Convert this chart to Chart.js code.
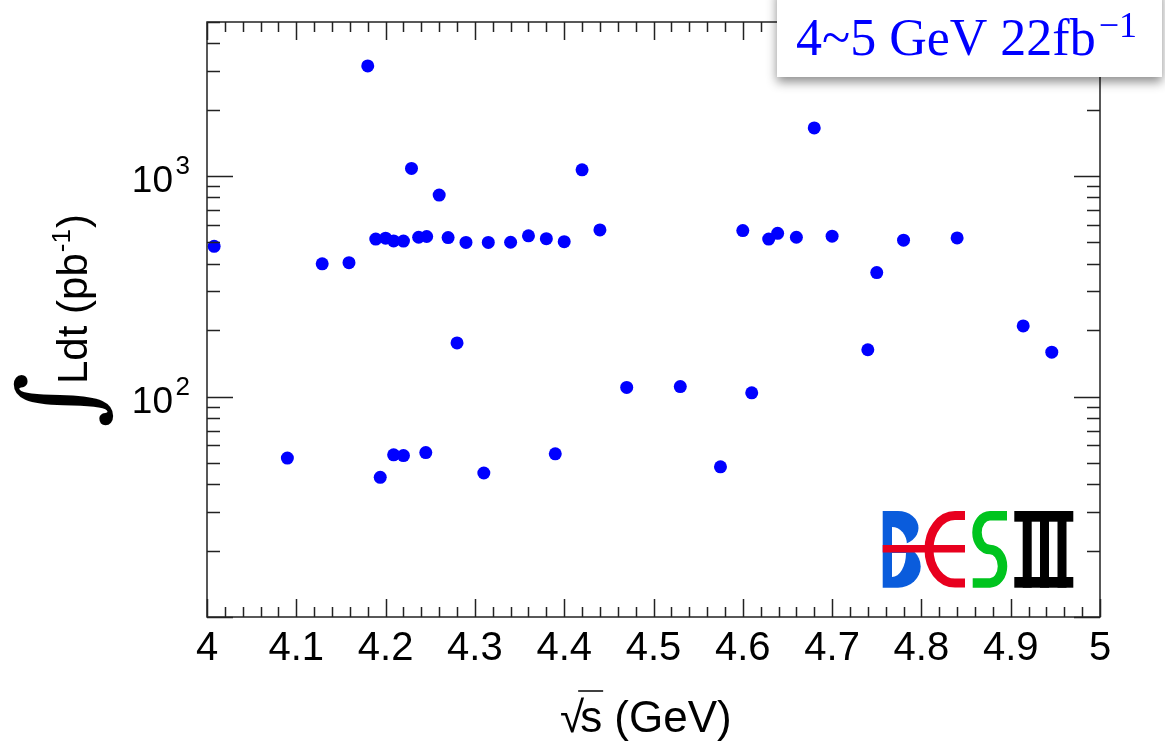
<!DOCTYPE html>
<html>
<head>
<meta charset="utf-8">
<script src="https://cdn.jsdelivr.net/npm/chart.js@4.4.0/dist/chart.umd.min.js"></script>
<style>
html, body { margin: 0; padding: 0; background: #fff; }
#chart { display: block; }
</style>
</head>
<body>
<canvas id="chart" width="1165" height="745"></canvas>
<script>
// data points: sqrt(s) in GeV, integrated luminosity in pb^-1
const energies = [4.008, 4.090, 4.129, 4.159, 4.180, 4.189, 4.194, 4.200, 4.209, 4.209,
    4.220, 4.220, 4.229, 4.237, 4.245, 4.246, 4.260, 4.270, 4.280, 4.290,
    4.310, 4.315, 4.340, 4.360, 4.380, 4.390, 4.400, 4.420, 4.440, 4.470,
    4.530, 4.575, 4.600, 4.610, 4.629, 4.639, 4.660, 4.680, 4.700, 4.740,
    4.750, 4.780, 4.840, 4.914, 4.946];
const lumis = [480, 52.6, 400, 405, 3160, 518, 43, 523, 508, 54.4,
    507, 54, 1083, 528, 55.7, 532, 820, 526, 175, 500,
    45, 500, 501, 536, 520, 55, 504, 1068, 570, 110,
    111, 48, 566, 104, 518, 550, 528, 1654, 534, 163,
    365, 512, 524, 209, 159];

const xTicks = [4, 4.1, 4.2, 4.3, 4.4, 4.5, 4.6, 4.7, 4.8, 4.9, 5];
const yLabelValues = [100, 1000];
const yLabelExps = ['2', '3'];
const boxText = '4~5 GeV 22fb';
const boxSup = '\u22121';

const ink = '#222';

const framePlugin = {
    id: 'frame',
    afterDraw(chart) {
        const ctx = chart.ctx;
        const a = chart.chartArea;
        const xs = chart.scales.x;
        const ys = chart.scales.y;
        ctx.save();

        // frame
        ctx.strokeStyle = ink;
        ctx.lineWidth = 1.5;
        ctx.strokeRect(a.left, a.top, a.right - a.left, a.bottom - a.top);

        // x ticks (top and bottom, pointing in)
        ctx.beginPath();
        for (let i = 0; i <= 50; i++) {
            const v = 4 + i * 0.02;
            const px = Math.round(xs.getPixelForValue(v)) + 0.5;
            const len = (i % 5 === 0) ? 18 : 10;
            ctx.moveTo(px, a.bottom);
            ctx.lineTo(px, a.bottom - len);
            ctx.moveTo(px, a.top);
            ctx.lineTo(px, a.top + len);
        }
        // y ticks (left and right)
        for (let d = 10; d <= 1000; d *= 10) {
            for (let m = 1; m <= 9; m++) {
                const v = d * m;
                if (v > ys.max) continue;
                const py = Math.round(ys.getPixelForValue(v)) + 0.5;
                const len = (m === 1) ? 26 : 13;
                ctx.moveTo(a.left, py);
                ctx.lineTo(a.left + len, py);
                ctx.moveTo(a.right, py);
                ctx.lineTo(a.right - len, py);
            }
        }
        ctx.stroke();

        // y tick labels 10^n
        ctx.fillStyle = '#000';
        yLabelValues.forEach((v, i) => {
            const py = ys.getPixelForValue(v);
            ctx.textAlign = 'right';
            ctx.textBaseline = 'middle';
            ctx.font = '37px "Liberation Sans", Arial, sans-serif';
            ctx.fillText('10', a.left - 34, py + 6);
            ctx.font = '26px "Liberation Sans", Arial, sans-serif';
            ctx.fillText(yLabelExps[i], a.left - 17, py - 9);
        });

        // x title: sqrt(s) (GeV)
        ctx.textAlign = 'left';
        ctx.textBaseline = 'alphabetic';
        ctx.font = '44px "Liberation Sans", Arial, sans-serif';
        let tx = 560;
        const ty = 732;
        ctx.fillText('\u221A', tx, ty);
        tx += ctx.measureText('\u221A').width - 4;
        const sw = ctx.measureText('s').width;
        ctx.fillText('s', tx, ty);
        ctx.lineWidth = 1.5;
        ctx.strokeStyle = '#000';
        ctx.beginPath();
        ctx.moveTo(tx - 2, 691);
        ctx.lineTo(tx + sw + 1, 691);
        ctx.stroke();
        ctx.fillText(' (GeV)', tx + sw, ty);

        // y title: integral Ldt (pb^-1)
        ctx.save();
        ctx.translate(66, 400);
        ctx.rotate(-Math.PI / 2);
        ctx.textAlign = 'center';
        ctx.textBaseline = 'middle';
        ctx.font = '106px "DejaVu Serif", serif';
        ctx.fillText('\u222B', 0, 0);
        ctx.restore();

        ctx.save();
        ctx.translate(87, 384);
        ctx.rotate(-Math.PI / 2);
        ctx.textAlign = 'left';
        ctx.textBaseline = 'alphabetic';
        ctx.font = '42px "Liberation Sans", Arial, sans-serif';
        let lx = 0;
        ctx.fillText('Ldt (pb', lx, 0);
        lx += ctx.measureText('Ldt (pb').width;
        ctx.font = '26px "Liberation Sans", Arial, sans-serif';
        ctx.fillText('-1', lx + 1, -17);
        lx += ctx.measureText('-1').width + 2;
        ctx.font = '42px "Liberation Sans", Arial, sans-serif';
        ctx.fillText(')', lx, 0);
        ctx.restore();

        // label box top right
        ctx.save();
        ctx.shadowColor = 'rgba(0,0,0,0.45)';
        ctx.shadowBlur = 10;
        ctx.shadowOffsetY = 5;
        ctx.fillStyle = '#fff';
        ctx.fillRect(777, -12, 385, 89);
        ctx.restore();
        ctx.fillStyle = '#0000ff';
        ctx.textAlign = 'left';
        ctx.textBaseline = 'alphabetic';
        ctx.font = '52px "Liberation Serif", "Times New Roman", serif';
        ctx.fillText(boxText, 796, 55);
        const bw = ctx.measureText(boxText).width;
        ctx.font = '36px "Liberation Serif", "Times New Roman", serif';
        ctx.fillText(boxSup, 796 + bw + 3, 37);

        // BESIII logo
        const blue = '#0a5cdc', red = '#e8001e', green = '#00c41e';
        ctx.fillStyle = blue;
        ctx.beginPath();
        ctx.rect(882.7, 511, 15.3, 76.7);
        ctx.fill();
        ctx.beginPath();
        ctx.ellipse(898, 528, 20.5, 17, 0, -Math.PI / 2, Math.PI / 2);
        ctx.fill();
        ctx.beginPath();
        ctx.ellipse(898, 566.5, 22.7, 21.2, 0, -Math.PI / 2, Math.PI / 2);
        ctx.fill();
        ctx.fillStyle = '#fff';
        ctx.beginPath();
        ctx.moveTo(892, 545);
        ctx.ellipse(892, 545, 15, 18, 0, -Math.PI / 2, 0);
        ctx.closePath();
        ctx.fill();
        ctx.beginPath();
        ctx.moveTo(892, 553);
        ctx.ellipse(892, 553, 14, 24, 0, 0, Math.PI / 2);
        ctx.closePath();
        ctx.fill();

        ctx.strokeStyle = red;
        ctx.lineWidth = 9;
        ctx.lineCap = 'butt';
        ctx.beginPath();
        ctx.moveTo(965, 515.5);
        ctx.lineTo(955, 515.5);
        ctx.ellipse(955, 549.3, 26, 33.8, 0, -Math.PI / 2, Math.PI / 2, true);
        ctx.lineTo(965, 583.1);
        ctx.stroke();
        ctx.fillStyle = red;
        ctx.fillRect(882.7, 545, 82.3, 7.5);

        ctx.strokeStyle = green;
        ctx.lineWidth = 9.5;
        ctx.beginPath();
        ctx.moveTo(1007, 515.7);
        ctx.lineTo(990, 515.7);
        ctx.ellipse(990, 532.6, 13, 16.9, 0, -Math.PI / 2, Math.PI / 2, true);
        ctx.ellipse(990, 566.2, 12.5, 16.7, 0, -Math.PI / 2, Math.PI / 2, false);
        ctx.lineTo(972.7, 582.9);
        ctx.stroke();

        ctx.fillStyle = '#000';
        ctx.fillRect(1014.3, 511, 59, 10.7);
        ctx.fillRect(1014.3, 577, 59, 10.7);
        ctx.fillRect(1022.7, 511, 9, 76.7);
        ctx.fillRect(1040, 511, 9, 76.7);
        ctx.fillRect(1057.5, 511, 9, 76.7);

        ctx.restore();
    }
};

const ctx = document.getElementById('chart').getContext('2d');
new Chart(ctx, {
    type: 'scatter',
    data: {
        datasets: [{
            data: energies.map((e, i) => ({ x: e, y: lumis[i] })),
            backgroundColor: '#0000ff',
            borderWidth: 0,
            pointRadius: 6.5
        }]
    },
    options: {
        responsive: false,
        animation: false,
        layout: { padding: { top: 22, right: 65, left: 0, bottom: 0 } },
        plugins: {
            legend: { display: false },
            tooltip: { enabled: false }
        },
        scales: {
            x: {
                type: 'linear',
                min: 4,
                max: 5,
                grid: { display: false, drawTicks: false },
                border: { display: false },
                afterBuildTicks: s => { s.ticks = xTicks.map(v => ({ value: v })); },
                afterFit: s => { s.height = 128; },
                ticks: {
                    color: '#000',
                    font: { family: '"Liberation Sans", Arial, sans-serif', size: 40 },
                    padding: 8,
                    maxRotation: 0,
                    autoSkip: false,
                    callback: v => String(+v.toFixed(1))
                }
            },
            y: {
                type: 'logarithmic',
                min: 10,
                max: 5000,
                grid: { display: false, drawTicks: false },
                border: { display: false },
                ticks: { display: false },
                afterFit: s => { s.width = 207; }
            }
        }
    },
    plugins: [framePlugin]
});
</script>
</body>
</html>
